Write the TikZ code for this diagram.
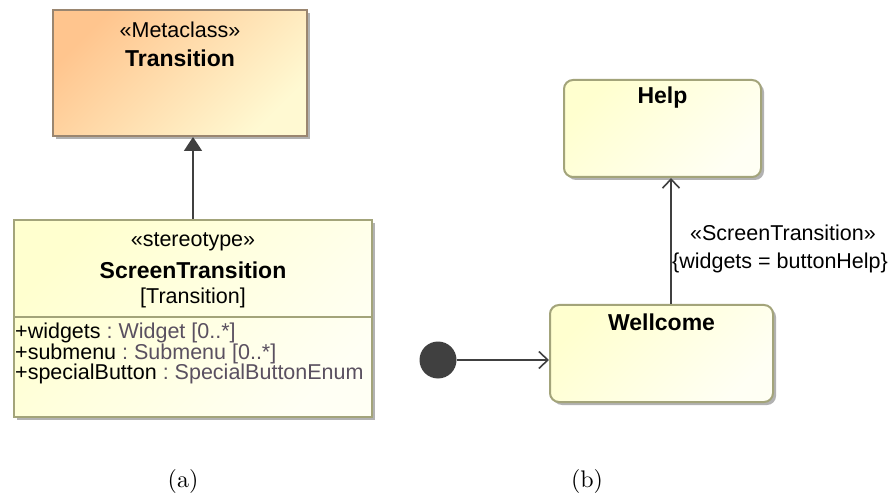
\documentclass[tikz,border=0pt]{standalone}
\usepackage{fontspec}
\newfontfamily\umlfont{Liberation Sans}
\newfontfamily\capfont[Extension=.otf]{lmroman10-regular}
\usetikzlibrary{arrows.meta,shadows,calc}

\definecolor{metaborder}{HTML}{9A8670}
\definecolor{metaA}{HTML}{FFC58E}
\definecolor{metaB}{HTML}{FFF9D2}
\definecolor{boxborder}{HTML}{A3A47A}
\definecolor{boxA}{HTML}{FFFFCF}
\definecolor{boxB}{HTML}{FFFFF4}
\definecolor{linecol}{HTML}{404040}
\definecolor{typecol}{HTML}{5A5060}

\tikzset{
  umlshadow/.style={drop shadow={shadow xshift=3pt,shadow yshift=-3pt,fill=black!30,opacity=1}},
  metabox/.style={draw=metaborder,line width=2pt,umlshadow,
    top color=metaA,bottom color=metaB,shading angle=45,inner sep=0pt},
  classbox/.style={draw=boxborder,line width=2pt,umlshadow,
    top color=boxA,bottom color=boxB,shading angle=45,inner sep=0pt},
  statebox/.style={classbox,rounded corners=9pt},
  txt/.style={font=\umlfont\fontsize{21.5}{24}\selectfont,inner sep=0pt},
  btxt/.style={font=\umlfont\bfseries\fontsize{23}{25}\selectfont,inner sep=0pt},
  attr/.style={txt,anchor=west},
  caption/.style={font=\capfont\fontsize{24}{28}\selectfont,inner sep=0pt},
  conn/.style={draw=linecol,line width=1.8pt},
  extend/.style={conn,-{Triangle[length=14pt,width=18pt]}},
  trans/.style={conn,-{Straight Barb[length=9pt,width=17pt,line width=1.6pt]}}
}

\begin{document}
\begin{tikzpicture}[x=1pt,y=-1pt]
\useasboundingbox[fill=white] (0,0) rectangle (888,502);

% (a) profile: metaclass and stereotype
\node[metabox,minimum width=254pt,minimum height=126pt] (meta) at (180,73) {};
\node[txt] (metast) at (180,30) {«Metaclass»};
\node[btxt] (metaname) at (180,58) {Transition};

\node[classbox,minimum width=358pt,minimum height=197pt] (stereo) at (193,318.5) {};
\draw[boxborder,line width=2pt] (stereo.west |- 0,317) coordinate (sepL) -- (stereo.east |- 0,317) coordinate (sepR);
\node[txt] (stst) at (193,242) {«stereotype»};
\node[btxt] (stname) at (193,270) {ScreenTransition};
\node[txt] (stmeta) at (193,298) {[Transition]};
\node[attr] (a1) at (15,333) {+widgets\ \textcolor{typecol}{:\ Widget [0..*]}};
\node[attr] (a2) at (15,353.5) {+submenu\ \textcolor{typecol}{:\ Submenu [0..*]}};
\node[attr] (a3) at (15,374) {+specialButton\ \textcolor{typecol}{:\ SpecialButtonEnum}};

\draw[extend] (stereo.north) -- (stereo.north |- meta.south);

% (b) state machine
\node[statebox,minimum width=197pt,minimum height=97pt] (help) at (662.5,128.5) {};
\node[btxt] (helpname) at (662.5,98) {Help};
\node[statebox,minimum width=223pt,minimum height=97pt] (well) at (661.5,353.5) {};
\node[btxt] (wellname) at (661.5,322) {Wellcome};
\node[circle,fill=linecol,minimum size=37pt,inner sep=0pt] (init) at (438,360) {};

\draw[trans] (init) -- (init -| well.west);
\draw[trans] ([xshift=9.5pt]well.north) -- ([xshift=9.5pt]well.north |- help.south);
\node[txt] (tlabel) at (783,233) {«ScreenTransition»};
\node[txt] (tconstr) at (780,263) {\{widgets = buttonHelp\}};

% captions
\node[caption] (capa) at (183,481) {(a)};
\node[caption] (capb) at (587,481) {(b)};
\end{tikzpicture}
\end{document}
